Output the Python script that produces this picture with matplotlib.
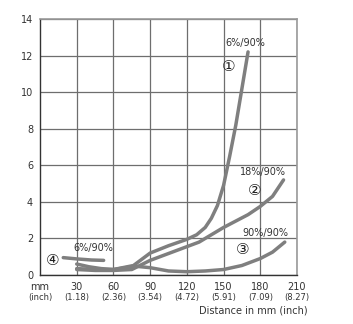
import matplotlib
matplotlib.use("Agg")
import matplotlib.pyplot as plt
import matplotlib.transforms as mtransforms

# curve data (distance in mm vs. value)
c1_x = [30, 40, 50, 60, 75, 90, 105, 120, 128, 135, 140, 145, 150, 155, 160, 165, 170]
c1_y = [0.6, 0.45, 0.35, 0.3, 0.45, 1.2, 1.6, 1.95, 2.2, 2.6, 3.1, 3.8, 4.9, 6.5, 8.2, 10.2, 12.2]

c2_x = [30, 45, 60, 75, 90, 110, 130, 150, 170, 180, 190, 199]
c2_y = [0.3, 0.25, 0.25, 0.3, 0.8, 1.3, 1.8, 2.6, 3.3, 3.75, 4.3, 5.2]

c3_x = [30, 45, 60, 75, 90, 105, 120, 135, 150, 165, 180, 190, 200]
c3_y = [0.35, 0.3, 0.3, 0.5, 0.4, 0.22, 0.18, 0.22, 0.3, 0.52, 0.9, 1.25, 1.8]

c4_x = [19, 30, 42, 52]
c4_y = [0.95, 0.88, 0.82, 0.8]

x_ticks = [30, 60, 90, 120, 150, 180, 210]
x_inch = ["(1.18)", "(2.36)", "(3.54)", "(4.72)", "(5.91)", "(7.09)", "(8.27)"]
y_ticks = [0, 2, 4, 6, 8, 10, 12, 14]

# (text, x, y)
labels = [
    ("6%/90%", 167.5, 12.68),
    ("18%/90%", 182.4, 5.65),
    ("90%/90%", 183.8, 2.31),
    ("6%/90%", 43.6, 1.49),
]
markers = [
    ("\u2460", 153.8, 11.39),
    ("\u2461", 175.6, 4.61),
    ("\u2462", 165.3, 1.40),
    ("\u2463", 10.3, 0.82),
]

txt = "#333333"
line_col = "#7f7f7f"
fonts = ["DejaVu Sans", "Noto Sans CJK SC"]

fig = plt.figure(figsize=(3.53, 3.24), dpi=100)
ax = fig.add_axes([40 / 353, 49 / 324, 257 / 353, 256 / 324])

for xs, ys in [(c3_x, c3_y), (c2_x, c2_y), (c1_x, c1_y), (c4_x, c4_y)]:
    ax.plot(xs, ys, color=line_col, lw=2.5, solid_capstyle="round",
            solid_joinstyle="round", zorder=3)

ax.set_xlim(0, 210)
ax.set_ylim(0, 14)
ax.set_xticks(x_ticks)
ax.set_yticks(y_ticks)
ax.set_xticklabels([])
ax.tick_params(length=0, labelsize=7, labelcolor=txt, pad=5)
ax.grid(True, color="#6e6e6e", lw=0.9, zorder=1)

for s in ["top", "right"]:
    ax.spines[s].set_color("#9a9a9a")
    ax.spines[s].set_linewidth(1.2)
for s in ["left", "bottom"]:
    ax.spines[s].set_color("#333333")
    ax.spines[s].set_linewidth(1.0)

trans = mtransforms.blended_transform_factory(ax.transData, ax.transAxes)
ax.text(0, -0.047, "mm", transform=trans, ha="center", va="center", fontsize=7, color=txt)
ax.text(0, -0.088, "(inch)", transform=trans, ha="center", va="center", fontsize=6, color=txt)
for xv, inch in zip(x_ticks, x_inch):
    ax.text(xv, -0.047, str(xv), transform=trans, ha="center", va="center", fontsize=7, color=txt)
    ax.text(xv, -0.088, inch, transform=trans, ha="center", va="center", fontsize=6, color=txt)

ax.text(1.043, -0.139, "Distance in mm (inch)", transform=ax.transAxes,
        ha="right", va="center", fontsize=7, color=txt)

for t, xv, yv in labels:
    ax.text(xv, yv, t, ha="center", va="center", fontsize=7, color=txt, zorder=4)
for t, xv, yv in markers:
    ax.text(xv, yv, t, ha="center", va="center", fontsize=11, color="#222222",
            family=fonts, zorder=4)

fig.savefig("out.png", dpi=100)
